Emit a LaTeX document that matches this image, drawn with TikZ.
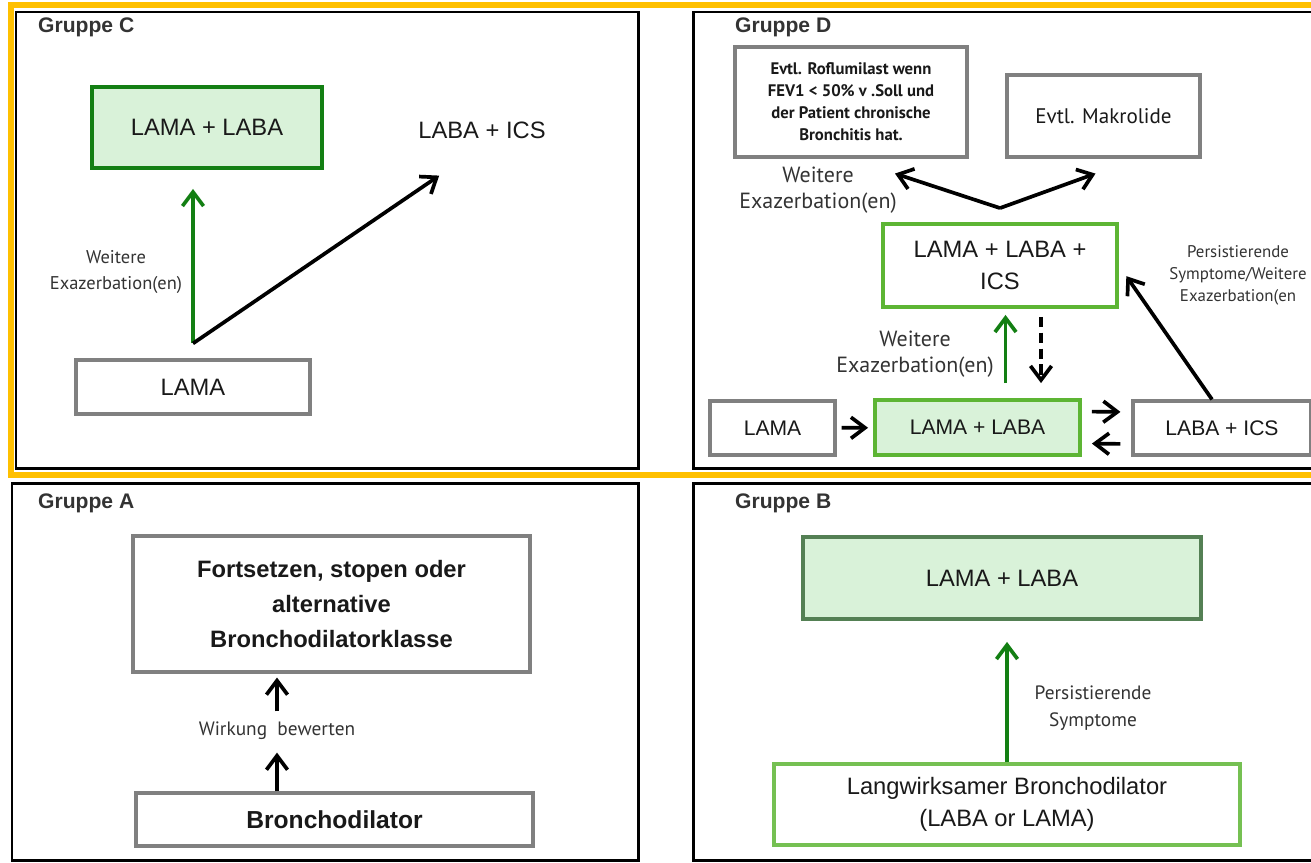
\documentclass[tikz,border=0pt]{standalone}
\usepackage{fontspec}
\setmainfont{Liberation Sans}
\newfontfamily\lblfont{PT Sans}
\usetikzlibrary{arrows.meta,calc}

\definecolor{boxgreen}{HTML}{D9F2D9}
\definecolor{darkgreen}{HTML}{137F13}
\definecolor{lightgreen}{HTML}{5DB534}
\definecolor{panelyellow}{HTML}{FFC000}
\definecolor{framegray}{HTML}{808080}

\begin{document}
\begin{tikzpicture}[x=0.02cm, y=-0.02cm,
  >={Straight Barb[length=8pt,width=12pt]},
  graybox/.style={draw=framegray, line width=1.8pt, fill=white, align=center, inner sep=0pt, text=black!90},
  greenbox/.style={draw=darkgreen, line width=2.2pt, fill=boxgreen, align=center, inner sep=0pt, text=black!90},
  plain/.style={align=center, text=black!90},
  big/.style={font=\fontsize{13.5}{18}\selectfont},
  mid/.style={font=\fontsize{12}{14}\selectfont},
  lbl/.style={align=center, text=black!80, font=\lblfont\fontsize{11}{15}\selectfont},
  title/.style={anchor=west, text=black!80, font=\bfseries\fontsize{12}{14}\selectfont},
  barrow/.style={->, line width=2.1pt},
  garrow/.style={->, line width=2.1pt, draw=darkgreen},
  frame/.style={line width=0.06cm}]
  \useasboundingbox (0,0) rectangle (1311,862);
  \clip (0,0) rectangle (1311,862);

  \draw[frame] (16,12) rectangle (638,468);
  \draw[frame] (693,12) rectangle (1330,468);
  \draw[frame] (12,483) rectangle (638,860);
  \draw[frame] (693,483) rectangle (1330,860);
  \draw[panelyellow, line width=0.12cm] (11,5) rectangle (1330,475);

  \node[title] (tc) at (32,27) {Gruppe C};
  \node[title] (td) at (729,27) {Gruppe D};
  \node[title] (ta) at (32,503) {Gruppe A};
  \node[title] (tb) at (729,503) {Gruppe B};

  \node[greenbox, big, minimum width=4.6cm, minimum height=1.62cm] (cdual) at (207,127.5) {LAMA + LABA};
  \node[plain, big] (cics) at (482,130) {LABA + ICS};
  \node[graybox, big, minimum width=4.68cm, minimum height=1.08cm] (clama) at (193,387) {LAMA};
  \node[lbl, font=\lblfont\fontsize{10.5}{15}\selectfont] (clbl) at (116,272) {Weitere\\Exazerbation(en)};
  \coordinate (cfork) at ($(clama.north)+(0,-15)$);
  \coordinate (cend) at ($(cics.south west)+(27,31)$);
  \draw[garrow, shorten >=0.38cm] (cfork) -- (cdual.south -| cfork);
  \draw[barrow] (cfork) -- (cend);

  \node[graybox, font=\lblfont\bfseries\fontsize{9.5}{12.5}\selectfont, minimum width=4.64cm, minimum height=2.2cm] (drof) at (851,102)
    {Evtl. Roflumilast wenn\\FEV1 < 50\% v .Soll und\\der Patient chronische\\Bronchitis hat.};
  \node[graybox, font=\lblfont\fontsize{12}{14}\selectfont, minimum width=3.86cm, minimum height=1.64cm] (dmak) at (1103.5,116) {Evtl. Makrolide};
  \node[greenbox, big, draw=lightgreen, fill=white, minimum width=4.68cm, minimum height=1.66cm] (dtriple) at (1000,265.5) {LAMA + LABA +\\ICS};
  \node[graybox, mid, minimum width=2.5cm, minimum height=1.08cm] (dlama) at (772.5,428) {LAMA};
  \node[greenbox, mid, draw=lightgreen, minimum width=4.1cm, minimum height=1.1cm] (ddual) at (977.5,427.5) {LAMA + LABA};
  \node[graybox, mid, minimum width=3.56cm, minimum height=1.08cm] (dlabics) at (1222,428) {LABA + ICS};
  \node[lbl, font=\lblfont\fontsize{12.5}{15}\selectfont] (dlbl1) at (818,190) {Weitere\\Exazerbation(en)};
  \node[lbl, font=\lblfont\fontsize{12.5}{15}\selectfont] (dlbl2) at (915,354) {Weitere\\Exazerbation(en)};
  \node[lbl, font=\lblfont\fontsize{9.6}{12.5}\selectfont] (dlbl3) at (1238,275) {Persistierende\\Symptome/Weitere\\Exazerbation(en};
  \coordinate (dfork) at ($(dtriple.north)+(0,-14)$);
  \coordinate (drofend) at ($(drof.south)+(44,15)$);
  \coordinate (dmakend) at ($(dmak.south)+(-8,15)$);
  \coordinate (dup) at ($(ddual.north)+(28,0)$);
  \coordinate (ddown) at ($(ddual.north)+(63.5,0)$);
  \draw[barrow] (dfork) -- (drofend);
  \draw[barrow] (dfork) -- (dmakend);
  \draw[garrow, shorten <=0.3cm, shorten >=0.12cm] (dup) -- (dup |- dtriple.south);
  \draw[barrow, dash pattern=on 6pt off 3pt, shorten <=0.16cm, shorten >=0.3cm] (ddown |- dtriple.south) -- (ddown);
  \draw[barrow, shorten <=0.1cm, shorten >=0.1cm] (dlama) -- (ddual);
  \draw[barrow, shorten <=0.2cm, shorten >=0.22cm] ([yshift=0.32cm]ddual.east) -- ([yshift=0.32cm]dlabics.west);
  \draw[barrow, shorten <=0.22cm, shorten >=0.2cm] ([yshift=-0.32cm]dlabics.west) -- ([yshift=-0.32cm]ddual.east);
  \draw[barrow, shorten >=0.26cm] ([xshift=-0.2cm]dlabics.north) -- (dtriple.east);

  \node[graybox, font=\bfseries\fontsize{13.5}{20}\selectfont, minimum width=7.94cm, minimum height=2.72cm] (atop) at (331.5,604)
    {Fortsetzen, stopen oder\\alternative\\Bronchodilatorklasse};
  \node[graybox, font=\bfseries\fontsize{14}{16}\selectfont, minimum width=7.94cm, minimum height=1.06cm] (abot) at (334.5,819.5) {Bronchodilator};
  \node[lbl] (albl) at (277,731) {Wirkung\ \ bewerten};
  \draw[barrow, shorten >=0.13cm] (abot.north -| albl) -- (albl);
  \draw[barrow, shorten <=0.09cm, shorten >=0.08cm] (albl) -- (albl |- atop.south);

  \node[greenbox, big, draw=framegray!60!darkgreen, minimum width=7.96cm, minimum height=1.64cm] (btop) at (1002,578) {LAMA + LABA};
  \node[graybox, big, draw=lightgreen!85!white, line width=2.2pt, minimum width=9.32cm, minimum height=1.62cm] (bbot) at (1007,804.5)
    {Langwirksamer Bronchodilator\\(LABA or LAMA)};
  \node[lbl] (blbl) at (1093,708) {Persistierende\\Symptome};
  \draw[garrow, shorten >=0.42cm] (bbot.north) -- (bbot.north |- btop.south);
\end{tikzpicture}
\end{document}
